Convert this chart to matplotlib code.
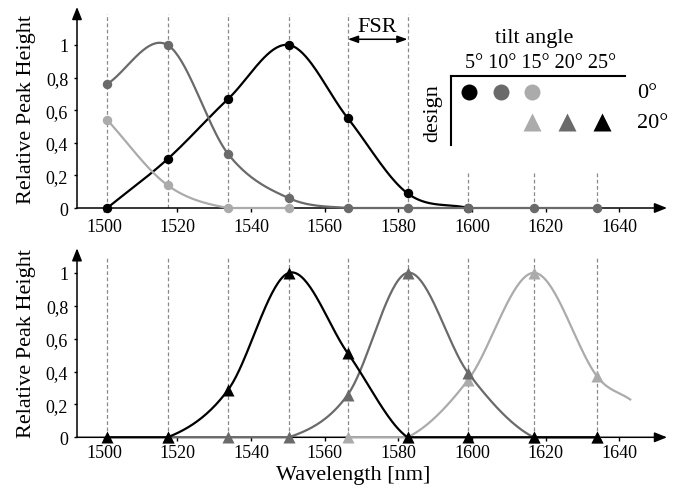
import numpy as np
import matplotlib
matplotlib.use("Agg")
import matplotlib.pyplot as plt
from matplotlib.lines import Line2D

plt.rcParams['font.family'] = ['Liberation Serif', 'DejaVu Serif']

# ---------------- data ----------------
peak_positions = [1500.9, 1517.3, 1533.8, 1550.3, 1566.3, 1582.5, 1599.0, 1616.8, 1634.0]

# top panel: design 0 deg (circles)
top_5_x = [1500.9, 1517.3, 1533.8, 1550.3, 1566.3, 1582.5, 1599.0]
top_5_y = [0.0, 0.30, 0.67, 1.0, 0.55, 0.09, 0.0]
top_10_x = [1500.9, 1517.3, 1533.8, 1550.3, 1566.3, 1582.5, 1599.0, 1616.8, 1634.0]
top_10_y = [0.76, 1.0, 0.33, 0.06, 0.0, 0.0, 0.0, 0.0, 0.0]
top_15_x = [1500.9, 1517.3, 1533.8, 1550.3]
top_15_y = [0.54, 0.14, 0.0, 0.0]

# bottom panel: design 20 deg (triangles)
bot_25_x = [1500.9, 1517.3, 1533.8, 1550.3, 1566.3, 1582.5, 1599.0, 1616.8, 1634.0]
bot_25_y = [0.0, 0.0, 0.29, 1.0, 0.51, 0.0, 0.0, 0.0, 0.0]
bot_20_x = [1517.3, 1533.8, 1550.3, 1566.3, 1582.5, 1599.0, 1616.8, 1634.0]
bot_20_y = [0.0, 0.0, 0.0, 0.26, 1.0, 0.39, 0.0, 0.0]
bot_15_x = [1566.3, 1582.5, 1599.0, 1616.8, 1634.0, 1643.0]
bot_15_y = [0.0, 0.0, 0.35, 1.0, 0.37, 0.23]
bot_15_marked = 5  # last point is the end of the curve, no marker

xticks = [1500, 1520, 1540, 1560, 1580, 1600, 1620, 1640]
yticks = [0, 0.2, 0.4, 0.6, 0.8, 1.0]
yticklabels = ["0", "0,2", "0,4", "0,6", "0,8", "1"]
angle_labels = "5° 10° 15° 20° 25°"

BLACK = "#000000"
DARK = "#6a6a6a"
LIGHT = "#ababab"
DASH = "#8a8a8a"


def smooth(xs, ys, n=40):
    xs = np.asarray(xs, float)
    ys = np.asarray(ys, float)
    m = np.zeros_like(ys)
    m[0] = (ys[1] - ys[0]) / (xs[1] - xs[0])
    m[-1] = (ys[-1] - ys[-2]) / (xs[-1] - xs[-2])
    for i in range(1, len(xs) - 1):
        m[i] = (ys[i + 1] - ys[i - 1]) / (xs[i + 1] - xs[i - 1])
    X, Y = [], []
    for i in range(len(xs) - 1):
        h = xs[i + 1] - xs[i]
        t = np.linspace(0, 1, n)
        h00 = 2 * t**3 - 3 * t**2 + 1
        h10 = t**3 - 2 * t**2 + t
        h01 = -2 * t**3 + 3 * t**2
        h11 = t**3 - t**2
        X.append(xs[i] + t * h)
        Y.append(h00 * ys[i] + h10 * h * m[i] + h01 * ys[i + 1] + h11 * h * m[i + 1])
    return np.concatenate(X), np.clip(np.concatenate(Y), 0, None)


W, H = 682, 489
fig = plt.figure(figsize=(W / 100, H / 100), dpi=100)


def fx(px):
    return px / W


def fy(py):
    return 1 - py / H


ax1 = fig.add_axes([fx(77), fy(209), 590 / W, 201 / H])
ax2 = fig.add_axes([fx(77), fy(438.3), 590 / W, 189 / H])

for ax, ytop, pad in ((ax1, 1.233, 4.5), (ax2, 1.149, 2.0)):
    ax.set_xlim(1492.7, 1653)
    ax.set_ylim(0, ytop)
    for s in ax.spines.values():
        s.set_visible(False)
    ax.set_xticks(xticks)
    ax.set_yticks(yticks)
    ax.set_yticklabels(yticklabels)
    ax.tick_params(axis='x', direction='out', length=3, width=1.0, labelsize=13, pad=pad)
    ax.tick_params(axis='y', direction='out', length=2, width=1.0, labelsize=13, pad=4.3)
    ax.annotate('', xy=(1, 0), xytext=(0, 0), xycoords='axes fraction',
                arrowprops=dict(arrowstyle='-|>,head_length=0.5,head_width=0.2', lw=1.1,
                                color='k', mutation_scale=15, shrinkA=0, shrinkB=0), zorder=2)
    ax.annotate('', xy=(0, 1), xytext=(0, 0), xycoords='axes fraction',
                arrowprops=dict(arrowstyle='-|>,head_length=0.5,head_width=0.2', lw=1.1,
                                color='k', mutation_scale=15, shrinkA=0, shrinkB=0), zorder=2)

# dashed FSR grid lines
for i, p in enumerate(peak_positions):
    top = 1.19 if i < 6 else 0.22
    ax1.plot([p, p], [0, top], color=DASH, lw=0.9, ls=(0, (3, 2)), zorder=1)
    ax2.plot([p, p], [0, 1.10], color=DASH, lw=0.9, ls=(0, (3, 2)), zorder=1)

# top panel curves
for xs, ys, c, z in ((top_5_x, top_5_y, BLACK, 3), (top_10_x, top_10_y, DARK, 4),
                     (top_15_x, top_15_y, LIGHT, 5)):
    sx, sy = smooth(xs, ys)
    ax1.plot(sx, sy, color=c, lw=1.6, zorder=z, clip_on=False)
    ax1.plot(xs, ys, 'o', color=c, ms=6.8, mec='none', zorder=z + 0.5, clip_on=False)

# bottom panel curves
for xs, ys, c, z, nm in ((bot_15_x, bot_15_y, LIGHT, 3, bot_15_marked),
                         (bot_20_x, bot_20_y, DARK, 4, len(bot_20_x)),
                         (bot_25_x, bot_25_y, BLACK, 5, len(bot_25_x))):
    sx, sy = smooth(xs, ys)
    ax2.plot(sx, sy, color=c, lw=1.6, zorder=z, clip_on=False)
    ax2.plot(xs[:nm], ys[:nm], '^', color=c, ms=9.0, mec='none', zorder=z + 0.5, clip_on=False)

# FSR annotation
ax1.annotate('', xy=(peak_positions[5], 1.035), xytext=(peak_positions[4], 1.035),
             arrowprops=dict(arrowstyle='<|-|>,head_length=0.5,head_width=0.18', lw=1.1,
                             color='k', mutation_scale=12, shrinkA=0, shrinkB=0))
fig.text(fx(377), fy(28), "FSR", ha='center', va='center', fontsize=16)

# axis labels
fig.text(fx(27), fy(110), "Relative Peak Height", rotation=90, ha='center', va='center', fontsize=16)
fig.text(fx(27), fy(343), "Relative Peak Height", rotation=90, ha='center', va='center', fontsize=16)
fig.text(fx(353), fy(476), "Wavelength [nm]", ha='center', va='center', fontsize=16)

# legend block
fig.text(fx(534), fy(38), "tilt angle", ha='center', va='center', fontsize=16)
fig.text(fx(541), fy(63), angle_labels, ha='center', va='center', fontsize=14.5)
fig.add_artist(Line2D([fx(451), fx(625)], [fy(77), fy(77)], color='k', lw=1.5, transform=fig.transFigure))
fig.add_artist(Line2D([fx(451), fx(451)], [fy(77), fy(146)], color='k', lw=1.5, transform=fig.transFigure))
fig.text(fx(433), fy(113), "design", rotation=90, ha='center', va='center', fontsize=16)
for px, c in ((469, BLACK), (501, DARK), (532, LIGHT)):
    fig.add_artist(Line2D([fx(px)], [fy(93)], marker='o', ms=11.5, color=c, mec='none',
                          transform=fig.transFigure))
for px, c in ((532, LIGHT), (567, DARK), (602, BLACK)):
    fig.add_artist(Line2D([fx(px)], [fy(123)], marker='^', ms=12.5, color=c, mec='none',
                          transform=fig.transFigure))
fig.text(fx(637), fy(94), "0°", ha='left', va='center', fontsize=16)
fig.text(fx(637), fy(124), "20°", ha='left', va='center', fontsize=16)

fig.savefig("out.png", dpi=100)
